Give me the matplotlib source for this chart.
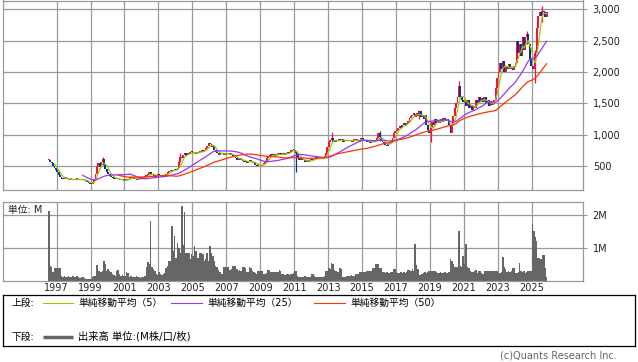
import matplotlib
matplotlib.use("Agg")
import matplotlib.pyplot as plt
import numpy as np
import pandas as pd

plt.rcParams['font.family'] = ['DejaVu Sans', 'Noto Sans CJK JP']

# monthly data, first month = Jul 1996
START = "1996-07"

close = [
    590, 560, 540, 500, 470, 430,                                   # 1996
    400, 360, 330, 300, 290, 310, 300, 290, 280, 290, 285, 280,     # 1997
    280, 290, 285, 275, 280, 290, 280, 270, 260, 250, 235, 215,     # 1998
    210, 240, 300, 380, 500, 540, 480, 560, 610, 520, 450, 400,     # 1999
    380, 340, 320, 310, 300, 290, 300, 290, 280, 275, 270, 265,     # 2000
    270, 280, 300, 310, 320, 310, 300, 290, 280, 290, 300, 310,     # 2001
    310, 320, 330, 340, 380, 400, 370, 350, 340, 330, 350, 360,     # 2002
    350, 340, 330, 340, 360, 380, 400, 420, 440, 420, 430, 450,     # 2003
    430, 460, 560, 650, 620, 680, 700, 660, 710, 690, 730, 720,     # 2004
    700, 690, 730, 700, 720, 730, 750, 720, 760, 780, 820, 860,     # 2005
    850, 810, 820, 760, 730, 700, 680, 710, 690, 710, 680, 690,     # 2006
    690, 710, 680, 690, 660, 650, 620, 600, 620, 600, 610, 580,     # 2007
    560, 580, 550, 580, 590, 560, 540, 560, 520, 500, 530, 510,     # 2008
    500, 520, 540, 580, 620, 650, 660, 690, 670, 690, 660, 680,     # 2009
    680, 700, 680, 700, 670, 690, 710, 700, 730, 740, 760, 750,     # 2010
    740, 700, 620, 600, 620, 590, 600, 570, 580, 570, 590, 600,     # 2011
    590, 610, 620, 640, 610, 620, 610, 630, 640, 640, 700, 800,     # 2012
    880, 920, 950, 900, 880, 910, 900, 930, 910, 930, 890, 910,     # 2013
    900, 920, 900, 920, 880, 910, 930, 910, 920, 890, 920, 930,     # 2014
    920, 900, 910, 880, 900, 870, 900, 880, 880, 900, 950, 1020,    # 2015
    960, 900, 880, 860, 840, 820, 850, 880, 900, 950, 1020, 1060,   # 2016
    1080, 1100, 1130, 1110, 1150, 1180, 1150, 1190, 1200, 1260, 1300, 1320,  # 2017
    1330, 1280, 1350, 1300, 1370, 1280, 1300, 1250, 1320, 1150, 1080, 1020,  # 2018
    1100, 1200, 1150, 1250, 1180, 1230, 1190, 1250, 1200, 1260, 1220, 1250,  # 2019
    1230, 1150, 1030, 1150, 1300, 1420, 1500, 1600, 1780, 1600, 1550, 1520,  # 2020
    1520, 1450, 1550, 1430, 1480, 1400, 1450, 1420, 1550, 1500, 1600, 1520,  # 2021
    1580, 1520, 1600, 1500, 1550, 1450, 1530, 1480, 1520, 1550, 1750, 1900,  # 2022
    2000, 2150, 2050, 2180, 2000, 2100, 2050, 2120, 2040, 2080, 2030, 2100,  # 2023
    2150, 2500, 2300, 2450, 2250, 2550, 2350, 2550, 2600, 2450, 2200, 2100,  # 2024
    2050, 2100, 2300, 2700, 2900, 2950, 2900, 2980, 2950, 2880, 2950,        # 2025
]

volume = [  # M shares
    2.15, 0.45, 0.42, 0.25, 0.38, 0.38,                                  # 1996
    0.38, 0.38, 0.38, 0.15, 0.12, 0.14, 0.1, 0.12, 0.15, 0.1, 0.12, 0.13,   # 1997
    0.12, 0.1, 0.14, 0.12, 0.08, 0.1, 0.12, 0.08, 0.05, 0.05, 0.06, 0.05,   # 1998
    0.06, 0.1, 0.13, 0.15, 0.48, 0.3, 0.28, 0.25, 0.3, 0.6, 0.5, 0.3,       # 1999
    0.35, 0.28, 0.25, 0.2, 0.18, 0.15, 0.3, 0.32, 0.2, 0.15, 0.18, 0.15,    # 2000
    0.15, 0.25, 0.22, 0.12, 0.15, 0.12, 0.1, 0.12, 0.15, 0.12, 0.1, 0.08,   # 2001
    0.1, 0.12, 0.15, 0.4, 0.57, 0.5, 1.82, 0.43, 0.35, 0.3, 0.2, 0.18,      # 2002
    0.25, 0.2, 0.18, 0.2, 0.22, 0.38, 0.45, 0.6, 0.6, 1.68, 0.9, 1.37,      # 2003
    0.7, 1.15, 1.0, 0.85, 2.28, 1.1, 2.12, 0.85, 0.85, 0.85, 0.65, 0.8,     # 2004
    0.75, 1.07, 0.9, 0.7, 0.7, 0.85, 0.85, 0.8, 0.6, 0.65, 0.85, 0.6,       # 2005
    1.05, 0.85, 0.74, 0.6, 0.45, 0.4, 0.33, 0.25, 0.2, 0.2, 0.43, 0.43,     # 2006
    0.43, 0.43, 0.33, 0.35, 0.45, 0.45, 0.45, 0.35, 0.3, 0.32, 0.3, 0.4,    # 2007
    0.4, 0.38, 0.25, 0.25, 0.4, 0.38, 0.3, 0.25, 0.22, 0.2, 0.3, 0.3,       # 2008
    0.3, 0.28, 0.2, 0.2, 0.22, 0.32, 0.32, 0.26, 0.25, 0.26, 0.25, 0.26,    # 2009
    0.26, 0.32, 0.3, 0.2, 0.2, 0.18, 0.2, 0.2, 0.18, 0.2, 0.2, 0.22,        # 2010
    0.3, 0.3, 0.15, 0.12, 0.12, 0.1, 0.12, 0.15, 0.12, 0.1, 0.12, 0.12,     # 2011
    0.2, 0.2, 0.15, 0.12, 0.12, 0.1, 0.12, 0.12, 0.12, 0.15, 0.3, 0.3,      # 2012
    0.37, 0.35, 0.55, 0.5, 0.33, 0.3, 0.25, 0.25, 0.37, 0.35, 0.12, 0.12,   # 2013
    0.12, 0.14, 0.15, 0.15, 0.16, 0.15, 0.15, 0.2, 0.2, 0.2, 0.25, 0.25,    # 2014
    0.25, 0.25, 0.25, 0.28, 0.28, 0.28, 0.28, 0.37, 0.37, 0.5, 0.52, 0.5,   # 2015
    0.37, 0.37, 0.25, 0.25, 0.22, 0.25, 0.22, 0.22, 0.25, 0.25, 0.35, 0.35, # 2016
    0.25, 0.22, 0.22, 0.25, 0.22, 0.25, 0.22, 0.25, 0.33, 0.33, 0.3, 0.35,  # 2017
    0.3, 1.13, 0.48, 0.35, 0.18, 0.18, 0.2, 0.22, 0.25, 0.22, 0.25, 0.3,    # 2018
    0.3, 0.3, 0.3, 0.28, 0.25, 0.22, 0.22, 0.25, 0.22, 0.22, 0.25, 0.22,    # 2019
    0.22, 0.25, 0.66, 0.6, 0.5, 0.43, 0.4, 0.43, 1.53, 0.45, 0.4, 0.76,     # 2020
    0.5, 1.13, 0.4, 0.37, 0.3, 0.27, 0.25, 0.3, 0.33, 0.22, 0.3, 0.3,       # 2021
    0.22, 0.2, 0.3, 0.3, 0.28, 0.3, 0.28, 0.28, 0.3, 0.28, 0.28, 0.28,      # 2022
    0.22, 0.22, 0.25, 0.72, 0.4, 0.35, 0.25, 0.28, 0.25, 0.3, 0.37, 0.37,   # 2023
    0.22, 0.22, 0.25, 0.55, 0.3, 0.25, 0.28, 0.22, 0.25, 0.3, 0.3, 0.3,     # 2024
    1.74, 1.51, 1.35, 1.23, 0.7, 0.68, 0.65, 0.79, 0.79, 0.38, 0.1,         # 2025
]

# the long shadows that stand out
wick_month = ["1999-09", "2004-04", "2011-02", "2013-03", "2016-01", "2018-05",
              "2019-01", "2020-09", "2024-09", "2025-03", "2025-08"]
wick_low = [520, 560, 410, 880, 900, 1250, 890, 1600, 2450, 1820, 2800]
wick_high = [640, 700, 740, 1050, 1060, 1400, 1150, 1850, 2650, 2350, 3050]

price_ticks = [500, 1000, 1500, 2000, 2500, 3000]
vol_ticks = [1, 2]
vol_labels = ["1M", "2M"]
year_ticks = list(range(1997, 2026, 2))

ma_periods = [5, 25, 50]
ma_colors = ["#99cc00", "#9933ff", "#ff3300"]
UP, DOWN = "#ff0a3c", "#0a3296"
GRID = "#999999"


def yearfrac(dates):
    return dates.year + (dates.month - 1) / 12 + 1 / 24


months = pd.date_range(START, periods=len(close), freq="MS")
x = yearfrac(months)
c = np.array(close, dtype=float)
o = np.r_[c[0], c[:-1]]
up = c >= o

W, H = 638, 362
fig = plt.figure(figsize=(W / 100, H / 100), dpi=100)


def box(l, t, r, b):
    return [l / W, 1 - b / H, (r - l) / W, (b - t) / H]


def frame(ax):
    for s in ax.spines.values():
        s.set_color(GRID)
        s.set_linewidth(0.9)
    ax.grid(True, color=GRID, linewidth=0.9)
    ax.set_axisbelow(True)
    ax.set_xlim(1993.84, 2028.02)
    ax.set_xticks(year_ticks)
    ax.yaxis.tick_right()
    ax.tick_params(axis="y", length=3, width=0.8, color=GRID, pad=4,
                   labelsize=7, labelcolor="#222222")


# price panel
ax1 = fig.add_axes(box(3, 0.5, 583, 190))
frame(ax1)
ax1.set_ylim(117, 3140)
ax1.set_yticks(price_ticks)
ax1.set_yticklabels([f"{v:,}" for v in price_ticks])
ax1.tick_params(axis="x", length=0, labelbottom=False)

wx = yearfrac(pd.to_datetime(wick_month))
wcol = [UP if up[months.get_loc(pd.Timestamp(m))] else DOWN for m in wick_month]
ax1.vlines(wx, wick_low, wick_high, colors=wcol, linewidth=0.9, zorder=2)
bot = np.minimum(o, c)
hgt = np.maximum(np.abs(c - o), 20)
bw = 1.3 / 12
ax1.bar(x[up], hgt[up], bottom=bot[up], width=bw, color=UP, linewidth=0,
        antialiased=False, zorder=2)
ax1.bar(x[~up], hgt[~up], bottom=bot[~up], width=bw, color=DOWN, linewidth=0,
        antialiased=False, zorder=2)

s = pd.Series(c)
for n, col in zip(ma_periods, ma_colors):
    ax1.plot(x, s.rolling(n).mean(), color=col, linewidth=0.9, zorder=3)

# volume panel
ax2 = fig.add_axes(box(3, 201.5, 583, 280.5))
frame(ax2)
ax2.bar(x, volume, width=1.05 / 12, color="#666666", linewidth=0,
        antialiased=False, zorder=2)
ax2.set_ylim(0, 2.43)
ax2.set_yticks(vol_ticks)
ax2.set_yticklabels(vol_labels)
ax2.set_xticklabels([str(y) for y in year_ticks])
ax2.tick_params(axis="x", length=0, pad=2, labelsize=7, labelcolor="#222222")
ax2.text(0.009, 0.96, "単位: M", transform=ax2.transAxes, fontsize=7,
         va="top", ha="left", color="#222222", zorder=4,
         bbox=dict(facecolor="white", edgecolor="none", pad=0.5))

# legend box
ax3 = fig.add_axes(box(3, 295, 635, 346))
ax3.set_xlim(3, 635)
ax3.set_ylim(346, 295)
ax3.set_xticks([])
ax3.set_yticks([])
for sp in ax3.spines.values():
    sp.set_color("black")
    sp.set_linewidth(0.9)

fs = 7
ax3.text(11, 303, "上段:", fontsize=fs, va="center", ha="left")
ax3.plot([43, 73], [303, 303], color=ma_colors[0], linewidth=0.8)
ax3.text(78, 303, "単純移動平均（5）", fontsize=fs, va="center", ha="left")
ax3.plot([171, 202], [303, 303], color=ma_colors[1], linewidth=0.8)
ax3.text(207, 303, "単純移動平均（25）", fontsize=fs, va="center", ha="left")
ax3.plot([314, 345], [303, 303], color=ma_colors[2], linewidth=0.8)
ax3.text(350, 303, "単純移動平均（50）", fontsize=fs, va="center", ha="left")
ax3.text(11, 336.5, "下段:", fontsize=fs, va="center", ha="left")
ax3.plot([43, 73], [336.5, 336.5], color="#666666", linewidth=2.5, solid_capstyle="butt")
ax3.text(78, 336.5, "出来高 単位:(M株/口/枚)", fontsize=7.4, va="center", ha="left")

fig.text(500 / W, 1 - 351 / H, "(c)Quants Research Inc.", fontsize=7,
         color="#666666", va="top", ha="left")

fig.savefig("out.png", dpi=100)
